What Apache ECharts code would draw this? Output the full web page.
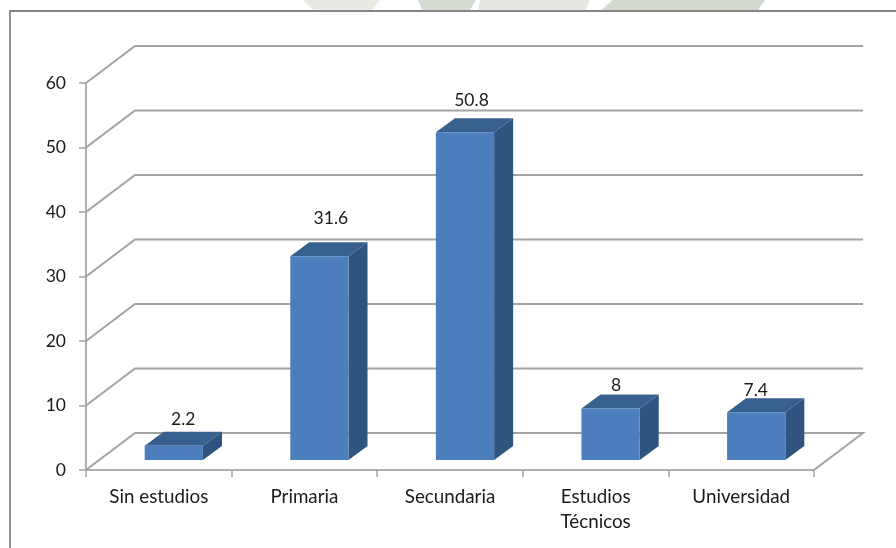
<!DOCTYPE html>
<html>
<head>
<meta charset="utf-8">
<style>html,body{margin:0;padding:0;background:#fff}#c{width:896px;height:548px}</style>
<script src="https://cdn.jsdelivr.net/npm/echarts@6/dist/echarts.min.js"></script>
</head>
<body>
<div id="c"></div>
<script>
const categories = ['Sin estudios', 'Primaria', 'Secundaria', 'Estudios\nTécnicos', 'Universidad'];
const values = [2.2, 31.6, 50.8, 8, 7.4];
const yTicks = [0, 10, 20, 30, 40, 50, 60];

// Styling of the pseudo-3D look
const WALL = [49, -37], BAR_SHIFT = [15, -10], BAR_DEPTH = [19, -14];
const LABEL_NUDGE = [[0, -12], [2, -24], [-3, -18], [-4, -9], [-10, -8]];
const FONT = 'Lato, "Noto Sans", sans-serif';
const GRID = '#a3a3a3';
// Faint background image remnants above the frame: [top-left, top-right, bottom-right, bottom-left, colour]
const WASH = [
  [303, 380, 372, 313, '#e8ebe4'], [418, 476, 470, 422, '#d6dcd2'], [480, 590, 586, 478, '#e6e9e2'], [612, 765, 758, 602, '#d3dacf']
];

const chart = echarts.init(document.getElementById('c'), null, {renderer: 'canvas'});
chart.setOption({
  animation: false,
  backgroundColor: '#fff',
  grid: {left: 86, right: 82, top: 83, bottom: 78},
  graphic: WASH.map(w => ({
    type: 'polygon', silent: true, z: 0,
    shape: {points: [[w[0], 0], [w[1], 0], [w[2], 10], [w[3], 10]]},
    style: {fill: w[4]}
  })).concat([
    {type: 'rect', silent: true, z: 0, shape: {x: 10, y: 11, width: 900, height: 560}, style: {fill: 'none', stroke: '#858585', lineWidth: 1.8}}
  ]),
  xAxis: {
    type: 'category', data: categories,
    axisLine: {lineStyle: {color: '#b0b0b0', width: 2}},
    axisTick: {show: true, length: 7, lineStyle: {color: GRID, width: 1.5}},
    axisLabel: {color: '#1a1a1a', fontFamily: FONT, fontSize: 18.8, margin: 14, lineHeight: 25, interval: 0}
  },
  yAxis: {
    type: 'value', min: 0, max: 60, interval: 10,
    splitLine: {show: false},
    axisLine: {show: true, lineStyle: {color: '#939393', width: 1.5}},
    axisTick: {show: true, length: 7, lineStyle: {color: GRID, width: 1.5}},
    axisLabel: {color: '#1a1a1a', fontFamily: FONT, fontSize: 17.5, margin: 20, padding: [3, 0, 0, 0], verticalAlign: 'middle', lineHeight: 21}
  },
  series: [
    {
      type: 'custom', silent: true, z: 1,
      data: yTicks,
      encode: {y: 0},
      renderItem(params, api) {
        const cs = params.coordSys;
        const y = api.coord([0, api.value(0)])[1];
        const x0 = cs.x, x1 = cs.x + cs.width;
        const pts = [[x0, y], [x0 + WALL[0], y + WALL[1]], [x1 + WALL[0], y + WALL[1]]];
        if (api.value(0) === 0) pts.push([x1, y]);
        return {type: 'polyline', shape: {points: pts}, style: {fill: 'none', stroke: GRID, lineWidth: 2}};
      }
    },
    {
      type: 'custom', z: 3,
      data: values.map((v, i) => [i, v]),
      encode: {x: 0, y: 1},
      renderItem(params, api) {
        const i = api.value(0), v = api.value(1);
        const c = api.coord([i, v]), b = api.coord([i, 0]);
        const w = api.size([1, 0])[0] * 0.4;
        const l = c[0] - w / 2 + BAR_SHIFT[0], r = l + w;
        const t = c[1] + BAR_SHIFT[1], f = b[1] + BAR_SHIFT[1];
        const dx = BAR_DEPTH[0], dy = BAR_DEPTH[1];
        const n = LABEL_NUDGE[i];
        return {
          type: 'group',
          children: [
            {type: 'polygon', shape: {points: [[r, t], [r + dx, t + dy], [r + dx, f + dy], [r, f]]}, style: {fill: '#2f5480'}},
            {type: 'polygon', shape: {points: [[l, t], [l + dx, t + dy], [r + dx, t + dy], [r, t]]}, style: {fill: '#38608f'}},
            {type: 'rect', shape: {x: l, y: t, width: w, height: f - t}, style: {fill: '#4c7ebd'}},
            {type: 'text', x: (l + r + dx) / 2 + n[0], y: t + dy + n[1], style: {
              text: String(v), fill: '#1a1a1a', font: '17.5px ' + FONT, align: 'center', verticalAlign: 'middle'
            }}
          ]
        };
      }
    }
  ]
});
</script>
</body>
</html>
